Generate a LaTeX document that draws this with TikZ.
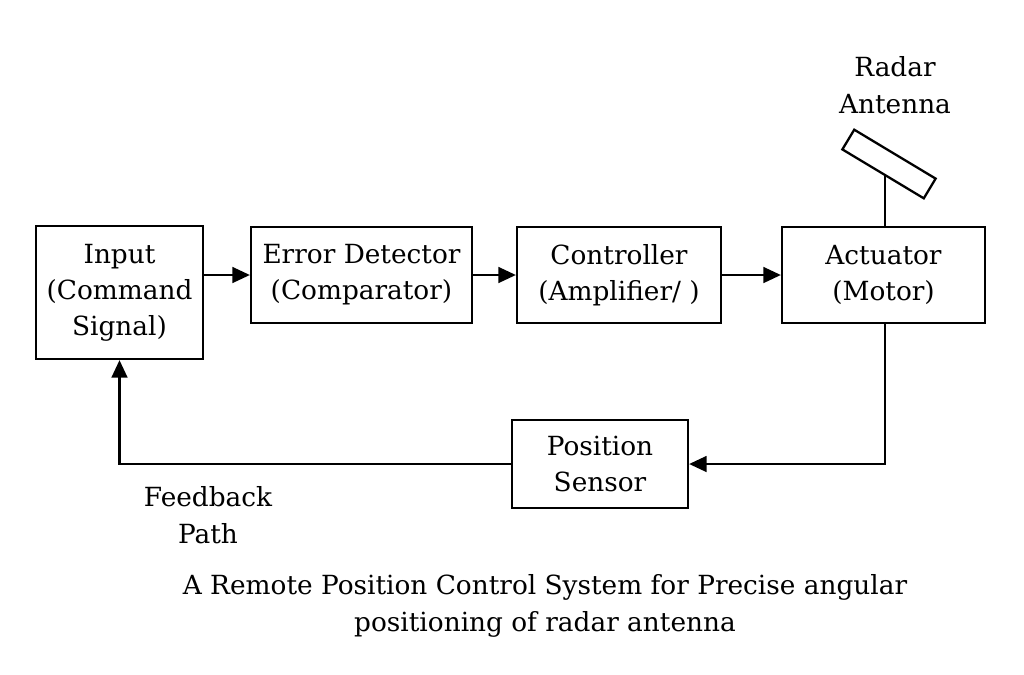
\documentclass[tikz,border=0pt]{standalone}
\usepackage{fontspec}
\setmainfont{DejaVu Serif}
\usetikzlibrary{positioning,arrows.meta}
\tikzset{
  blk/.style={draw, line width=1.3pt, align=center, font=\fontsize{15}{20.5}\selectfont},
  lbl/.style={align=center, font=\fontsize{15}{21}\selectfont},
  flow/.style={line width=1.3pt, -{Triangle[length=10pt,width=9pt]}}
}
\begin{document}
\begin{tikzpicture}[x=0.02cm,y=-0.02cm]
\useasboundingbox (0,0) rectangle (1024,674);
% blocks
\node[blk, minimum width=3.34cm, minimum height=2.66cm] (input) at (119.5,292.5) {Input\\(Command\\Signal)};
\node[blk, minimum width=4.42cm, minimum height=1.92cm] (error) at (361.5,275) {Error Detector\\(Comparator)};
\node[blk, minimum width=4.08cm, minimum height=1.92cm] (ctrl) at (619,275) {Controller\\(Amplifier/ )};
\node[blk, minimum width=4.06cm, minimum height=1.92cm] (act) at (883.5,275) {Actuator\\(Motor)};
\node[blk, minimum width=3.52cm, minimum height=1.76cm] (sensor) at (600,464) {Position\\Sensor};
% forward path
\draw[flow] (input.east |- error) -- (error.west);
\draw[flow] (error) -- (ctrl);
\draw[flow] (ctrl) -- (act);
% feedback
\coordinate (fb) at (885,464);
\draw[flow] (act.south -| fb) -- (fb) -- (sensor.east);
\draw[flow] (sensor.west) -- (119.5,464) -- (input.south);
% antenna
\coordinate (mast) at (885,170);
\draw[line width=1.3pt] (act.north -| mast) -- (mast);
\node[draw, line width=1.3pt, minimum width=1.9cm, minimum height=0.46cm, rotate=-31, fill=white] (ant) at (889,164) {};
\node[lbl] (antlbl) at (895,85) {Radar\\Antenna};
\node[lbl] (fblbl) at (208,515) {Feedback\\Path};
\node[lbl] (cap) at (545,606) {A Remote Position Control System for Precise angular\\positioning of radar antenna};
\end{tikzpicture}
\end{document}
